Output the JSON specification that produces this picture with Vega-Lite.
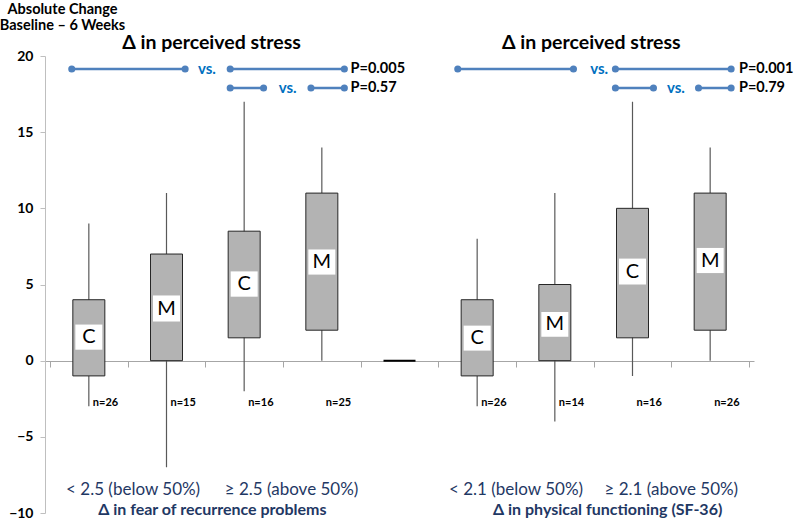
{
  "$schema": "https://vega.github.io/schema/vega-lite/v6.json",
  "width": 709,
  "height": 457,
  "autosize": {"type": "none"},
  "padding": {"left": 45, "top": 56, "right": 46, "bottom": 9},
  "config": {"view": {"stroke": null}, "font": "Lato"},
  "datasets": {
    "boxes": [
      {"x": 0.5, "g": "C", "lo": -3, "q1": -1, "q3": 4, "hi": 9, "llo": 0.72, "lhi": 2.37, "lm": 1.55, "n": "n=26"},
      {"x": 1.5, "g": "M", "lo": -7, "q1": 0, "q3": 7, "hi": 11, "llo": 2.57, "lhi": 4.28, "lm": 3.42, "n": "n=15"},
      {"x": 2.5, "g": "C", "lo": -2, "q1": 1.5, "q3": 8.5, "hi": 17, "llo": 4.2, "lhi": 5.86, "lm": 5.03, "n": "n=16"},
      {"x": 3.5, "g": "M", "lo": 0, "q1": 2, "q3": 11, "hi": 14, "llo": 5.65, "lhi": 7.3, "lm": 6.47, "n": "n=25"},
      {"x": 5.5, "g": "C", "lo": -3, "q1": -1, "q3": 4, "hi": 8, "llo": 0.66, "lhi": 2.3, "lm": 1.48, "n": "n=26"},
      {"x": 6.5, "g": "M", "lo": -4, "q1": 0, "q3": 5, "hi": 11, "llo": 1.57, "lhi": 3.2, "lm": 2.38, "n": "n=14"},
      {"x": 7.5, "g": "C", "lo": -1, "q1": 1.5, "q3": 10, "hi": 17, "llo": 5.0, "lhi": 6.7, "lm": 5.85, "n": "n=16"},
      {"x": 8.5, "g": "M", "lo": 0, "q1": 2, "q3": 11, "hi": 14, "llo": 5.75, "lhi": 7.4, "lm": 6.57, "n": "n=26"}
    ],
    "mid": [{"x": 4.5}],
    "segments": [
      {"x": 0.28, "x2": 1.74, "y": 19.15},
      {"x": 2.32, "x2": 3.79, "y": 19.15},
      {"x": 2.32, "x2": 2.75, "y": 17.9},
      {"x": 3.36, "x2": 3.79, "y": 17.9},
      {"x": 5.25, "x2": 6.74, "y": 19.15},
      {"x": 7.28, "x2": 8.77, "y": 19.15},
      {"x": 7.28, "x2": 7.77, "y": 17.9},
      {"x": 8.35, "x2": 8.77, "y": 17.9}
    ],
    "vs": [
      {"x": 2.02, "y": 19.15, "t": "vs."},
      {"x": 3.06, "y": 17.9, "t": "vs."},
      {"x": 7.07, "y": 19.15, "t": "vs."},
      {"x": 8.06, "y": 17.9, "t": "vs."}
    ],
    "pvals": [
      {"x": 3.87, "y": 19.15, "t": "P=0.005"},
      {"x": 3.87, "y": 17.9, "t": "P=0.57"},
      {"x": 8.87, "y": 19.15, "t": "P=0.001"},
      {"x": 8.87, "y": 17.9, "t": "P=0.79"}
    ],
    "titles": [
      {"x": 2.08, "y": 20.85, "t": "Δ in perceived stress"},
      {"x": 6.97, "y": 20.85, "t": "Δ in perceived stress"}
    ],
    "groups": [
      {"x": 1.07, "y": -8.5, "t": "< 2.5 (below 50%)"},
      {"x": 3.11, "y": -8.5, "t": "≥ 2.5 (above 50%)"},
      {"x": 6.0, "y": -8.5, "t": "< 2.1 (below 50%)"},
      {"x": 8.0, "y": -8.5, "t": "≥ 2.1 (above 50%)"}
    ],
    "xtitles": [
      {"x": 2.09, "y": -9.8, "t": "Δ in fear of recurrence problems"},
      {"x": 7.18, "y": -9.8, "t": "Δ in physical functioning  (SF-36)"}
    ]
  },
  "layer": [
    {
      "data": {"name": "boxes"},
      "mark": {"type": "rule", "color": "#595959", "strokeWidth": 1.2},
      "encoding": {
        "x": {
          "field": "x", "type": "quantitative",
          "scale": {"domain": [0, 9], "nice": false, "zero": false},
          "axis": {
            "title": null, "labels": false, "offset": -152,
            "values": [0, 1, 2, 3, 4, 5, 6, 7, 8, 9],
            "domainColor": "#a6a6a6", "tickColor": "#a6a6a6", "tickSize": 6, "grid": false
          }
        },
        "y": {
          "field": "lo", "type": "quantitative",
          "scale": {"domain": [-10, 20], "nice": false},
          "axis": {
            "title": ["Absolute Change", "Baseline – 6 Weeks"],
            "titleAngle": 0, "titleAlign": "center", "titleBaseline": "top",
            "titleX": 17, "titleY": -54, "titleFont": "Lato", "titleFontSize": 14.5,
            "titleFontWeight": "bold", "titleColor": "#000000", "titleLineHeight": 16,
            "values": [-10, -5, 0, 5, 10, 15, 20],
            "domainColor": "#bfbfbf", "tickColor": "#bfbfbf", "tickSize": 5,
            "labelFont": "Lato", "labelFontSize": 14, "labelFontWeight": "bold",
            "labelColor": "#000000", "labelPadding": 7, "grid": false
          }
        },
        "y2": {"field": "hi"}
      }
    },
    {
      "data": {"name": "boxes"},
      "mark": {"type": "bar", "orient": "vertical", "size": 32, "fill": "#b3b3b3", "stroke": "#262626", "strokeWidth": 1},
      "encoding": {
        "x": {"field": "x", "type": "quantitative"},
        "y": {"field": "q1", "type": "quantitative"},
        "y2": {"field": "q3"}
      }
    },
    {
      "data": {"name": "boxes"},
      "mark": {"type": "bar", "orient": "vertical", "size": 27, "fill": "#ffffff"},
      "encoding": {
        "x": {"field": "x", "type": "quantitative"},
        "y": {"field": "llo", "type": "quantitative"},
        "y2": {"field": "lhi"}
      }
    },
    {
      "data": {"name": "boxes"},
      "mark": {"type": "text", "font": "Lato", "fontSize": 20, "color": "#000000", "align": "center", "baseline": "middle"},
      "encoding": {
        "x": {"field": "x", "type": "quantitative"},
        "y": {"field": "lm", "type": "quantitative"},
        "text": {"field": "g"}
      }
    },
    {
      "data": {"name": "boxes"},
      "mark": {"type": "text", "font": "Lato", "fontSize": 11, "fontWeight": "bold", "color": "#000000", "align": "left", "baseline": "middle", "dx": 4},
      "encoding": {
        "x": {"field": "x", "type": "quantitative"},
        "y": {"datum": -2.8, "type": "quantitative"},
        "text": {"field": "n"}
      }
    },
    {
      "data": {"name": "mid"},
      "mark": {"type": "bar", "orient": "vertical", "size": 32, "fill": "#000000", "stroke": "#000000", "strokeWidth": 2},
      "encoding": {
        "x": {"field": "x", "type": "quantitative"},
        "y": {"datum": 0, "type": "quantitative"},
        "y2": {"datum": 0}
      }
    },
    {
      "data": {"name": "segments"},
      "mark": {"type": "rule", "color": "#4f81bd", "strokeWidth": 2.5},
      "encoding": {
        "x": {"field": "x", "type": "quantitative"},
        "x2": {"field": "x2"},
        "y": {"field": "y", "type": "quantitative"}
      }
    },
    {
      "data": {"name": "segments"},
      "transform": [{"fold": ["x", "x2"], "as": ["end", "xv"]}],
      "mark": {"type": "point", "filled": true, "opacity": 1, "size": 50, "color": "#4f81bd"},
      "encoding": {
        "x": {"field": "xv", "type": "quantitative"},
        "y": {"field": "y", "type": "quantitative"}
      }
    },
    {
      "data": {"name": "vs"},
      "mark": {"type": "text", "font": "Lato", "fontSize": 15, "fontWeight": "bold", "color": "#0070c0", "align": "center", "baseline": "middle"},
      "encoding": {
        "x": {"field": "x", "type": "quantitative"},
        "y": {"field": "y", "type": "quantitative"},
        "text": {"field": "t"}
      }
    },
    {
      "data": {"name": "pvals"},
      "mark": {"type": "text", "font": "Lato", "fontSize": 14.5, "fontWeight": "bold", "color": "#000000", "align": "left", "baseline": "middle"},
      "encoding": {
        "x": {"field": "x", "type": "quantitative"},
        "y": {"field": "y", "type": "quantitative"},
        "text": {"field": "t"}
      }
    },
    {
      "data": {"name": "titles"},
      "mark": {"type": "text", "font": "Lato", "fontSize": 19.5, "fontWeight": "bold", "color": "#000000", "align": "center", "baseline": "middle"},
      "encoding": {
        "x": {"field": "x", "type": "quantitative"},
        "y": {"field": "y", "type": "quantitative"},
        "text": {"field": "t"}
      }
    },
    {
      "data": {"name": "groups"},
      "mark": {"type": "text", "font": "Lato", "fontSize": 17, "color": "#1f3864", "align": "center", "baseline": "middle"},
      "encoding": {
        "x": {"field": "x", "type": "quantitative"},
        "y": {"field": "y", "type": "quantitative"},
        "text": {"field": "t"}
      }
    },
    {
      "data": {"name": "xtitles"},
      "mark": {"type": "text", "font": "Lato", "fontSize": 16, "fontWeight": "bold", "color": "#1f3864", "align": "center", "baseline": "middle"},
      "encoding": {
        "x": {"field": "x", "type": "quantitative"},
        "y": {"field": "y", "type": "quantitative"},
        "text": {"field": "t"}
      }
    }
  ]
}
